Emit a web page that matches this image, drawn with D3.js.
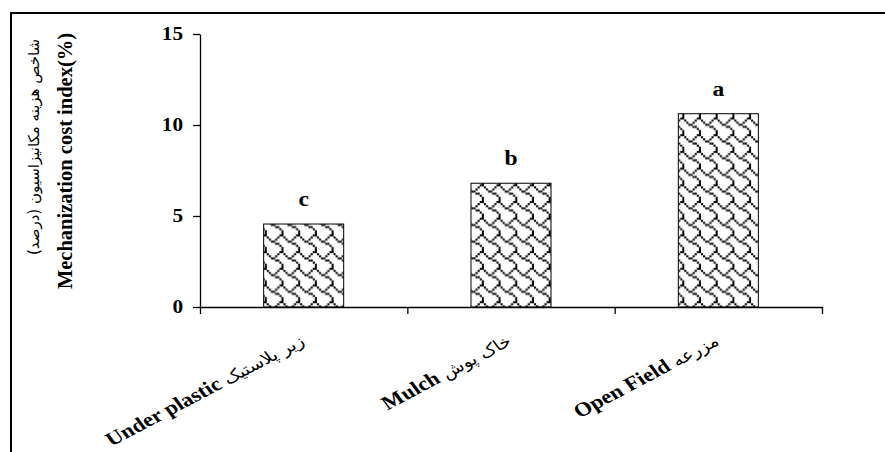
<!DOCTYPE html>
<html>
<head>
<meta charset="utf-8">
<script src="https://cdn.jsdelivr.net/npm/d3@7"></script>
<style>
  body { margin: 0; background: #fff; }
  svg { display: block; }
</style>
</head>
<body>
<svg width="885" height="452"></svg>
<script>
// chart data
var categories = ["Under plastic", "Mulch", "Open Field"];
var categoriesFa = ["زیر پلاستیک", "خاک پوش", "مزرعه"];
var values = [4.56, 6.8, 10.62];
var groupLetters = ["c", "b", "a"];
var yTicks = [0, 5, 10, 15];
var yTitleEn = "Mechanization cost index(%)";
var yTitleFa = "شاخص هزینه مکانیزاسیون (درصد)";

var svg = d3.select("svg"),
  margin = { top: 34, right: 63, bottom: 145, left: 200 },
  width = 885 - margin.left - margin.right,
  height = 452 - margin.top - margin.bottom;

var serif = "'Liberation Serif', 'Times New Roman', serif";
var faFont = "'DejaVu Sans', sans-serif";
var stretch = 1.18; // the picture is a little wider than tall

svg.append("rect").attr("width", 885).attr("height", 452).attr("fill", "#fff");

// frame round the chart area (only top and left show)
svg.append("path")
  .attr("d", "M11,452V13H885")
  .attr("fill", "none")
  .attr("stroke", "#000")
  .attr("stroke-width", 2);

// shingle fill, 8x8 bitmap
var shingleRows = [0x03, 0x84, 0x48, 0x30, 0x0c, 0x02, 0x01, 0x01];
var tileW = 16.7, tileH = 16.7;
var cellW = tileW / 8, cellH = tileH / 8;
var pattern = svg.append("defs").append("pattern")
  .attr("id", "shingle")
  .attr("patternUnits", "userSpaceOnUse")
  .attr("width", tileW)
  .attr("height", tileH);
pattern.append("rect").attr("width", tileW).attr("height", tileH).attr("fill", "#fff");
shingleRows.forEach(function (bits, r) {
  for (var c = 0; c < 8; c++) {
    if (bits & (0x80 >> c)) {
      pattern.append("rect")
        .attr("x", c * cellW)
        .attr("y", r * cellH)
        .attr("width", cellW)
        .attr("height", cellH)
        .attr("fill", "#000");
    }
  }
});

var g = svg.append("g")
  .attr("transform", "translate(" + margin.left + "," + margin.top + ")");

var xScale = d3.scaleBand()
  .domain(categories)
  .range([0, width])
  .paddingInner(0.614)
  .paddingOuter(0.307);

var xEdges = d3.scaleLinear().domain([0, categories.length]).range([0, width]);

var yScale = d3.scaleLinear().domain([0, 15]).range([height, 0]);

// bars
g.selectAll(".bar")
  .data(values)
  .enter()
  .append("rect")
  .attr("class", "bar")
  .attr("x", (d, i) => xScale(categories[i]))
  .attr("y", (d) => yScale(d))
  .attr("width", xScale.bandwidth())
  .attr("height", (d) => height - yScale(d))
  .attr("fill", "url(#shingle)")
  .attr("stroke", "#000")
  .attr("stroke-width", 1);

// y axis
var yAxis = g.append("g")
  .call(d3.axisLeft(yScale).tickValues(yTicks).tickSize(7).tickSizeOuter(0).tickFormat(d3.format("d")));
yAxis.select(".domain").attr("stroke", "#000").attr("stroke-width", 1.3);
yAxis.selectAll(".tick line").attr("stroke", "#000").attr("stroke-width", 1.3);
yAxis.selectAll(".tick text")
  .attr("x", -17 / stretch)
  .attr("dy", "0.33em")
  .attr("transform", "scale(" + stretch + ",1)")
  .style("font-family", serif)
  .style("font-weight", "bold")
  .style("font-size", "18px")
  .attr("fill", "#000");

// x axis: ticks between categories
var xAxis = g.append("g")
  .attr("transform", "translate(0," + height + ")")
  .call(d3.axisBottom(xEdges).tickValues(d3.range(categories.length + 1)).tickSize(7).tickSizeOuter(0).tickFormat(""));
xAxis.select(".domain").attr("stroke", "#000").attr("stroke-width", 1.3);
xAxis.selectAll(".tick line").attr("stroke", "#000").attr("stroke-width", 1.3);

// category labels, slanted
var xLab = g.selectAll(".xlab")
  .data(categories)
  .enter()
  .append("g")
  .attr("class", "xlab")
  .attr("transform", (d) =>
    "translate(" + (xScale(d) + xScale.bandwidth() / 2 + 2) + "," + (height + 37) + ") scale(" + stretch + ",1) rotate(-32)");
var xText = xLab.append("text")
  .attr("text-anchor", "end")
  .attr("fill", "#000");
xText.append("tspan")
  .style("font-family", serif)
  .style("font-weight", "bold")
  .style("font-size", "19.5px")
  .text((d) => d + " ");
xText.append("tspan")
  .style("font-family", faFont)
  .style("font-size", "16px")
  .text((d, i) => categoriesFa[i]);

// letters over bars
g.selectAll(".letter")
  .data(values)
  .enter()
  .append("text")
  .attr("class", "letter")
  .attr("transform", (d, i) =>
    "translate(" + (xScale(categories[i]) + xScale.bandwidth() / 2) + "," + (yScale(d) - 18) + ") scale(" + stretch + ",1)")
  .attr("text-anchor", "middle")
  .style("font-family", serif)
  .style("font-weight", "bold")
  .style("font-size", "20px")
  .text((d, i) => groupLetters[i]);

// y title, two lines
svg.append("text")
  .attr("transform", "translate(72,161) rotate(-90)")
  .attr("text-anchor", "middle")
  .style("font-family", serif)
  .style("font-weight", "bold")
  .style("font-size", "20.5px")
  .text(yTitleEn);

svg.append("text")
  .attr("transform", "translate(39,147) rotate(-90)")
  .attr("text-anchor", "middle")
  .style("font-family", faFont)
  .style("font-size", "15px")
  .text(yTitleFa);
</script>
</body>
</html>
